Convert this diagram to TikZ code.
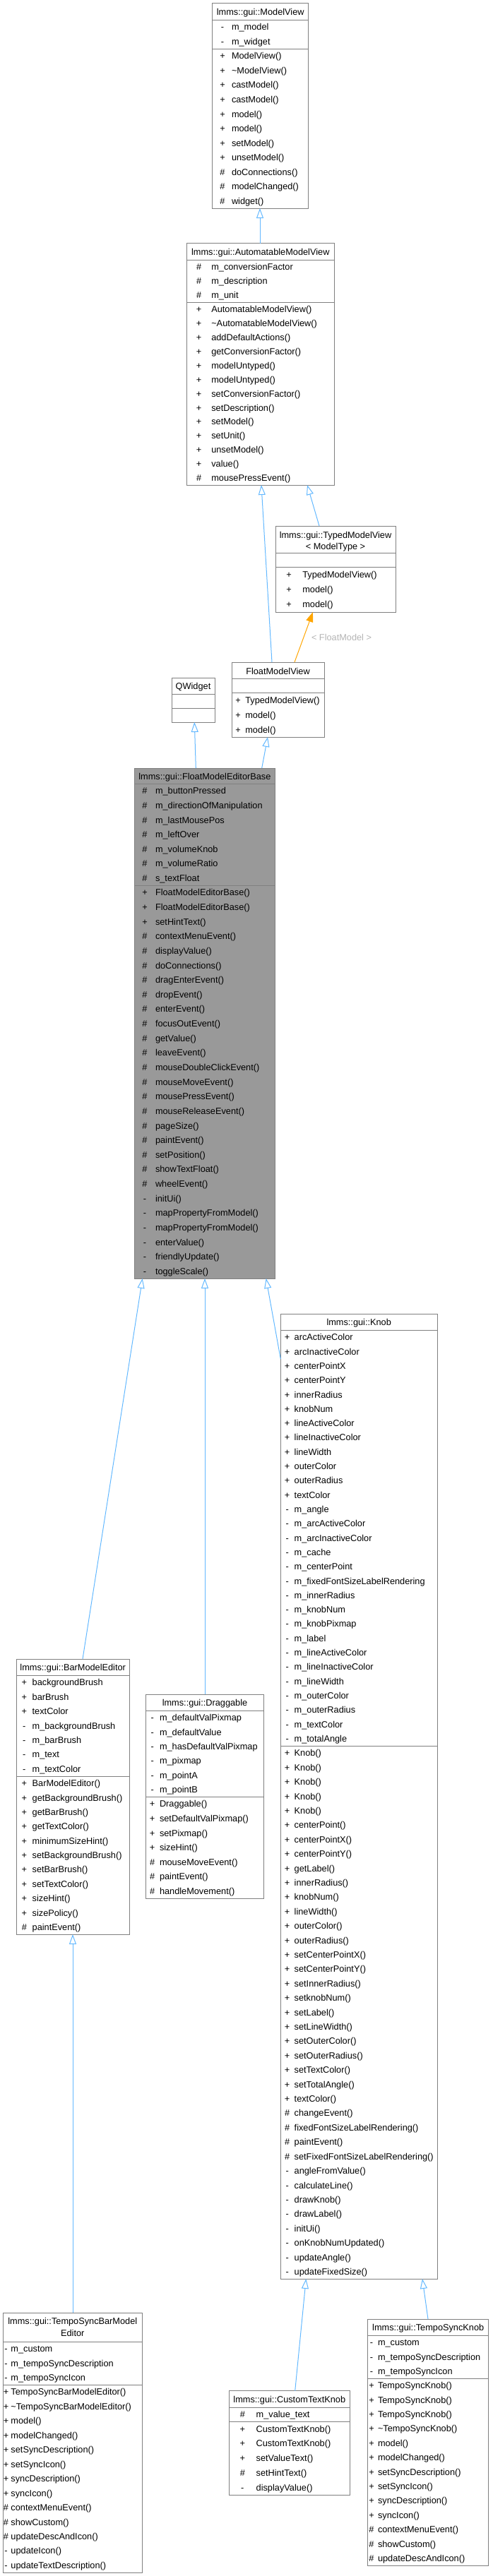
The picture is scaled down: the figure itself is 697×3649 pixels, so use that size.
\documentclass[tikz,border=0pt]{standalone}
\usepackage{fontspec}
\setmainfont{Liberation Sans}
\usetikzlibrary{arrows.meta}
\definecolor{inhblue}{RGB}{99,184,255}
\definecolor{tmplorange}{RGB}{255,165,0}
\definecolor{boxgray}{RGB}{128,128,128}
\definecolor{basefill}{RGB}{153,153,153}
\definecolor{lblgray}{RGB}{180,180,180}
\tikzset{
  txt/.style={inner sep=0pt, outer sep=0pt, font=\fontsize{12.75pt}{15pt}\selectfont},
  clsbox/.style={draw=boxgray, line width=1pt, fill=white, inner sep=0pt, outer sep=0pt, anchor=north west},
  clsline/.style={draw=boxgray, line width=1pt},
  inh/.style={draw=inhblue, line width=1pt, -{Triangle[open, length=14pt, width=10pt]}},
  tmpl/.style={draw=tmplorange, line width=1pt, -{Triangle[length=14pt, width=10pt]}},
}
% #1 name, #2 L, #3 T, #4 R, #5 B, #6 title bottom, #7 separator, #8 fill
\newcommand{\clsbox}[8]{%
  \node[clsbox, fill=#8, minimum width={#4pt-#2pt}, minimum height={#5pt-#3pt}] (#1) at (#2,#3) {};
  \draw[clsline] (#2,#6) -- (#4,#6);
  \draw[clsline] (#2,#7) -- (#4,#7);
}
% #1 prefix, #2 symx, #3 namex, #4 top, #5 bottom, #6 count, #7 list
\newcommand{\clsrows}[7]{%
  \pgfmathsetmacro\rowh{(#5-#4)/#6}%
  \foreach \vs/\vn [count=\i] in {#7} {
    \pgfmathsetmacro\yc{#4+(\i-0.5)*\rowh+4.6}
    \node[txt, anchor=base] (#1s\i) at (#2,\yc) {\vs};
    \node[txt, anchor=base west] (#1n\i) at (#3,\yc) {\vn};
  }%
}
\begin{document}
\begin{tikzpicture}[x=1pt,y=-1pt]
\useasboundingbox (0,0) rectangle (697,3649);

% ModelView
\clsbox{mv}{300.7}{4.7}{436.7}{295}{28}{69}{white}
\node[txt, anchor=base] (mvt) at (368.7,21.5) {lmms::gui::ModelView};
\clsrows{mva}{315}{328}{28}{69}{2}{-/m\_model, -/m\_widget}
\clsrows{mvm}{315}{328}{69}{295}{11}{+/ModelView(), +/\textasciitilde ModelView(), +/castModel(), +/castModel(), +/model(), +/model(), +/setModel(), +/unsetModel(), \#/doConnections(), \#/modelChanged(), \#/widget()}

% AutomatableModelView
\clsbox{amv}{264.3}{344.7}{473.3}{687}{368}{428}{white}
\node[txt, anchor=base] (amvt) at (368.8,361.5) {lmms::gui::AutomatableModelView};
\clsrows{amva}{281.7}{299.3}{368}{428}{3}{\#/m\_conversionFactor, \#/m\_description, \#/m\_unit}
\clsrows{amvm}{281.7}{299.3}{428}{687}{13}{+/AutomatableModelView(), +/\textasciitilde AutomatableModelView(), +/addDefaultActions(), +/getConversionFactor(), +/modelUntyped(), +/modelUntyped(), +/setConversionFactor(), +/setDescription(), +/setModel(), +/setUnit(), +/unsetModel(), +/value(), \#/mousePressEvent()}

% TypedModelView
\clsbox{tmv}{390}{745}{560}{867}{783}{803}{white}
\node[txt, anchor=base] (tmvt1) at (475,762.5) {lmms::gui::TypedModelView};
\node[txt, anchor=base] (tmvt2) at (475,778.5) {< ModelType >};
\clsrows{tmvm}{409}{428.3}{803}{867}{3}{+/TypedModelView(), +/model(), +/model()}

% FloatModelView
\clsbox{fmv}{328}{938}{459}{1044}{961}{981}{white}
\node[txt, anchor=base] (fmvt) at (393.5,955.5) {FloatModelView};
\clsrows{fmvm}{337}{347.3}{981}{1044}{3}{+/TypedModelView(), +/model(), +/model()}

% QWidget
\clsbox{qw}{243}{960}{304}{1023}{983}{1003}{white}
\node[txt, anchor=base] (qwt) at (273.5,976) {QWidget};

% FloatModelEditorBase
\clsbox{fmeb}{190.7}{1088}{389}{1811}{1110}{1254}{basefill}
\node[txt, anchor=base] (fmebt) at (289.9,1104) {lmms::gui::FloatModelEditorBase};
\clsrows{fmeba}{205}{220}{1110}{1254}{7}{\#/m\_buttonPressed, \#/m\_directionOfManipulation, \#/m\_lastMousePos, \#/m\_leftOver, \#/m\_volumeKnob, \#/m\_volumeRatio, \#/s\_textFloat}
\clsrows{fmebm}{205}{220}{1254}{1811}{27}{+/FloatModelEditorBase(), +/FloatModelEditorBase(), +/setHintText(), \#/contextMenuEvent(), \#/displayValue(), \#/doConnections(), \#/dragEnterEvent(), \#/dropEvent(), \#/enterEvent(), \#/focusOutEvent(), \#/getValue(), \#/leaveEvent(), \#/mouseDoubleClickEvent(), \#/mouseMoveEvent(), \#/mousePressEvent(), \#/mouseReleaseEvent(), \#/pageSize(), \#/paintEvent(), \#/setPosition(), \#/showTextFloat(), \#/wheelEvent(), -/initUi(), -/mapPropertyFromModel(), -/mapPropertyFromModel(), -/enterValue(), -/friendlyUpdate(), -/toggleScale()}

% Knob
\clsbox{knob}{397.3}{1861}{619}{3228}{1884}{2473}{white}
\node[txt, anchor=base] (knobt) at (508.2,1877) {lmms::gui::Knob};
\clsrows{knoba}{406.7}{416.7}{1884}{2473}{29}{+/arcActiveColor, +/arcInactiveColor, +/centerPointX, +/centerPointY, +/innerRadius, +/knobNum, +/lineActiveColor, +/lineInactiveColor, +/lineWidth, +/outerColor, +/outerRadius, +/textColor, -/m\_angle, -/m\_arcActiveColor, -/m\_arcInactiveColor, -/m\_cache, -/m\_centerPoint, -/m\_fixedFontSizeLabelRendering, -/m\_innerRadius, -/m\_knobNum, -/m\_knobPixmap, -/m\_label, -/m\_lineActiveColor, -/m\_lineInactiveColor, -/m\_lineWidth, -/m\_outerColor, -/m\_outerRadius, -/m\_textColor, -/m\_totalAngle}
\clsrows{knobm}{406.7}{416.7}{2473}{3228}{37}{+/Knob(), +/Knob(), +/Knob(), +/Knob(), +/Knob(), +/centerPoint(), +/centerPointX(), +/centerPointY(), +/getLabel(), +/innerRadius(), +/knobNum(), +/lineWidth(), +/outerColor(), +/outerRadius(), +/setCenterPointX(), +/setCenterPointY(), +/setInnerRadius(), +/setknobNum(), +/setLabel(), +/setLineWidth(), +/setOuterColor(), +/setOuterRadius(), +/setTextColor(), +/setTotalAngle(), +/textColor(), \#/changeEvent(), \#/fixedFontSizeLabelRendering(), \#/paintEvent(), \#/setFixedFontSizeLabelRendering(), -/angleFromValue(), -/calculateLine(), -/drawKnob(), -/drawLabel(), -/initUi(), -/onKnobNumUpdated(), -/updateAngle(), -/updateFixedSize()}

% BarModelEditor
\clsbox{bme}{23.3}{2350}{183}{2740}{2373}{2516}{white}
\node[txt, anchor=base] (bmet) at (103.2,2366) {lmms::gui::BarModelEditor};
\clsrows{bmea}{34.3}{45.7}{2373}{2516}{7}{+/backgroundBrush, +/barBrush, +/textColor, -/m\_backgroundBrush, -/m\_barBrush, -/m\_text, -/m\_textColor}
\clsrows{bmem}{34.3}{45.7}{2516}{2740}{11}{+/BarModelEditor(), +/getBackgroundBrush(), +/getBarBrush(), +/getTextColor(), +/minimumSizeHint(), +/setBackgroundBrush(), +/setBarBrush(), +/setTextColor(), +/sizeHint(), +/sizePolicy(), \#/paintEvent()}

% Draggable
\clsbox{drag}{206.7}{2400}{373.3}{2689}{2423}{2545}{white}
\node[txt, anchor=base] (dragt) at (290,2416) {lmms::gui::Draggable};
\clsrows{draga}{215.7}{226}{2423}{2545}{6}{-/m\_defaultValPixmap, -/m\_defaultValue, -/m\_hasDefaultValPixmap, -/m\_pixmap, -/m\_pointA, -/m\_pointB}
\clsrows{dragm}{215.7}{226}{2545}{2689}{7}{+/Draggable(), +/setDefaultValPixmap(), +/setPixmap(), +/sizeHint(), \#/mouseMoveEvent(), \#/paintEvent(), \#/handleMovement()}

% TempoSyncBarModelEditor
\clsbox{tsbme}{4}{3276}{201.7}{3644}{3317}{3378}{white}
\node[txt, anchor=base] (tsbmet1) at (102.8,3292) {lmms::gui::TempoSyncBarModel};
\node[txt, anchor=base] (tsbmet2) at (102.8,3309) {Editor};
\clsrows{tsbmea}{8.5}{15.5}{3317}{3378}{3}{-/m\_custom, -/m\_tempoSyncDescription, -/m\_tempoSyncIcon}
\clsrows{tsbmem}{8.5}{15.5}{3378}{3644}{13}{+/TempoSyncBarModelEditor(), +/\textasciitilde TempoSyncBarModelEditor(), +/model(), +/modelChanged(), +/setSyncDescription(), +/setSyncIcon(), +/syncDescription(), +/syncIcon(), \#/contextMenuEvent(), \#/showCustom(), \#/updateDescAndIcon(), -/updateIcon(), -/updateTextDescription()}

% CustomTextKnob
\clsbox{ctk}{324}{3386.7}{495.7}{3534.3}{3410}{3430}{white}
\node[txt, anchor=base] (ctkt) at (409.8,3403) {lmms::gui::CustomTextKnob};
\clsrows{ctka}{343.3}{362.7}{3410}{3430}{1}{\#/m\_value\_text}
\clsrows{ctkm}{343.3}{362.7}{3430}{3534.3}{5}{+/CustomTextKnob(), +/CustomTextKnob(), +/setValueText(), \#/setHintText(), -/displayValue()}

% TempoSyncKnob
\clsbox{tsk}{520.7}{3285}{691.7}{3634}{3308}{3369}{white}
\node[txt, anchor=base] (tskt) at (606.2,3301) {lmms::gui::TempoSyncKnob};
\clsrows{tska}{526}{535}{3308}{3369}{3}{-/m\_custom, -/m\_tempoSyncDescription, -/m\_tempoSyncIcon}
\clsrows{tskm}{526}{535}{3369}{3634}{13}{+/TempoSyncKnob(), +/TempoSyncKnob(), +/TempoSyncKnob(), +/\textasciitilde TempoSyncKnob(), +/model(), +/modelChanged(), +/setSyncDescription(), +/setSyncIcon(), +/syncDescription(), +/syncIcon(), \#/contextMenuEvent(), \#/showCustom(), \#/updateDescAndIcon()}

% connectors
\draw[inh] (amv.north -| 368,0) -- (mv.south -| 368,0);
\draw[inh] (fmv.north -| 385,0) -- (amv.south -| 370,0);
\draw[inh] (tmv.north -| 452,0) -- (amv.south -| 435,0);
\draw[tmpl] (fmv.north -| 417,0) -- (tmv.south -| 443,0);
\node[txt, text=lblgray, anchor=base west] (lbl) at (441,907.5) {< FloatModel >};
\draw[inh] (fmeb.north -| 277.3,0) -- (qw.south -| 275.3,0);
\draw[inh] (fmeb.north -| 370.7,0) -- (fmv.south -| 379,0);
\draw[inh] (bme.north -| 117,0) -- (fmeb.south -| 201.7,0);
\draw[inh] (drag.north -| 290,0) -- (fmeb.south -| 290,0);
\draw[inh] (knob.west |- 0,1925) -- (fmeb.south -| 376.7,0);
\draw[inh] (tsbme.north -| 103,0) -- (bme.south -| 103,0);
\draw[inh] (ctk.north -| 417.7,0) -- (knob.south -| 433.3,0);
\draw[inh] (tsk.north -| 606,0) -- (knob.south -| 598,0);
\end{tikzpicture}
\end{document}
